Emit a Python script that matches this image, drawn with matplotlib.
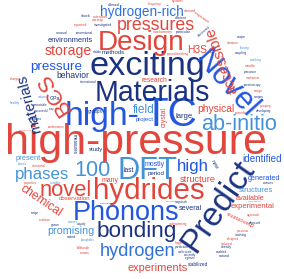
import matplotlib
matplotlib.use("Agg")
import matplotlib.pyplot as plt
import numpy as np

# ---- data: words of the cloud and their colour group ----
words = [
    "high-pressure", "DFT", "100", "high-", "TC", "Materials", "exciting", "Design",
    "pressures", "hydrogen-rich", "Novel", "accessible", "BCS", "materials", "Phonons",
    "bonding", "hydrogen", "experiments", "hydrides", "novel", "Predict", "phases",
    "storage", "pressure", "environments", "methods", "behavior", "H3S", "GPa", "groups",
    "complex", "study", "present", "last", "many", "observation", "chemical", "promising",
    "experimental", "available", "structures", "structure", "generated", "identified",
    "several", "physical", "ab-initio", "large", "crystal", "field", "project", "mostly",
    "high", "period", "research", "ground-breaking", "measures", "phenomena", "new",
    # small words
    "allowed", "frequency", "systems", "variety", "shock", "extension", "diamond",
    "efficient", "reported", "investigated", "temperature", "stoichiometry", "particular",
    "discovered", "unusual", "conventional", "stable", "duration", "scope", "theory",
    "coupling", "working", "metallic", "precursor", "mechanism", "spectroscopy", "range",
    "ranges", "pumping", "developing", "scientific", "charge", "international", "healthy",
    "metastable", "successful", "x-ray", "nature", "confirmation", "bases", "vibrational",
    "properties", "suitable", "range", "resolution", "classes", "uniquely", "grown",
    "suited", "phosphides", "Although", "remain", "underpinning", "large", "prediction",
    "multi-scale", "currently", "regimes", "waves", "low-pressure", "approach", "detected",
    "previous", "involving", "designed", "induced", "already", "enabled", "natural",
    "magnitude", "Preliminary", "computational", "stabilized", "superconductor",
]
groups = [
    "red", "lblue", "lblue", "blue", "blue", "navy", "navy", "red",
    "red", "mblue", "blue", "red", "red", "navy", "blue",
    "navy", "mblue", "red", "red", "red", "navy", "lblue",
    "red", "blue", "navy", "navy", "navy", "red", "navy", "navy",
    "navy", "navy", "lblue", "navy", "red", "red", "red", "lblue",
    "red", "red", "lblue", "red", "blue", "blue",
    "navy", "red", "lblue", "navy", "red", "lblue", "blue", "blue",
    "blue", "navy", "red", "red", "navy", "red", "navy",
    "navy", "red", "red", "red", "navy", "red", "red",
    "navy", "red", "navy", "red", "red", "navy",
    "navy", "navy", "navy", "navy", "red", "navy", "lblue",
    "navy", "lblue", "red", "navy", "red", "navy", "red",
    "navy", "red", "navy", "red", "red", "navy", "lblue",
    "navy", "navy", "navy", "lblue", "red", "lblue", "red",
    "red", "lblue", "navy", "red", "lblue", "navy", "navy",
    "navy", "lblue", "red", "red", "red", "red", "navy",
    "navy", "navy", "navy", "navy", "red", "red", "navy",
    "red", "navy", "red", "red", "navy", "navy", "navy",
    "navy", "red", "navy", "navy", "red",
]

# ---- layout (pixel centre x, centre y, text length px, rotation deg) ----
layout = [
    (136, 143, 263, 0), (147, 171, 60, 0), (93, 170, 36, 0), (102, 116, 75, 0), (170, 115, 54, 0),
    (152, 93, 116, 0), (147, 66, 117, 0), (141, 43, 87, 0),
    (156, 25, 78, 0), (142, 12, 84, 0), (226, 84, 80, -48), (222, 60, 70, 110), (54, 94, 46, 123),
    (29, 104, 60, 105), (126, 213, 107, 0),
    (137, 232, 80, 0), (138, 251, 76, 0), (158, 268, 60, 0), (149, 191, 112, 0), (66, 190, 53, 0),
    (218, 206, 105, 55), (42, 174, 54, 0),
    (68, 51, 47, 0), (56, 67, 52, 0), (70, 41, 45, 0), (111, 55, 23, 0), (73, 75, 33, 0),
    (198, 50, 20, 0), (57, 104, 15, 0), (95, 112, 24, 0),
    (35, 119, 24, 0), (100, 149, 14, 0), (30, 157, 25, 0), (126, 170, 13, 0), (110, 181, 17, 0),
    (75, 200, 40, 0), (43, 200, 48, -34), (71, 231, 47, 0),
    (252, 206, 44, 0), (247, 195, 29, 0), (251, 186, 34, 0), (198, 184, 36, 0), (259, 174, 33, 0),
    (262, 156, 40, 0),
    (190, 208, 23, 0), (216, 108, 37, 0), (235, 124, 76, 0), (185, 116, 17, 0), (164, 117, 20, 90),
    (146, 110, 22, 0), (146, 118, 18, 0), (161, 164, 22, 0),
    (193, 167, 32, 0), (158, 173, 17, 0), (155, 80, 26, 0), (173, 57, 22, 0), (80, 140, 20, -90),
    (240, 218, 30, 155), (214, 165, 10, -60),
    # small words
    (115, 5, 12, 0), (155, 5, 14, 0), (178, 5, 12, 0), (98, 20, 12, 0), (86, 16, 10, 0),
    (103, 16, 15, 0), (183, 11, 12, 0),
    (181, 16, 12, 0), (80, 25, 13, 0), (103, 25, 18, 0), (202, 18, 18, -35), (163, 34, 20, 0),
    (184, 34, 15, 0),
    (204, 31, 15, 40), (62, 33, 12, 0), (84, 33, 17, 0), (98, 52, 9, 0), (233, 43, 12, 0),
    (241, 37, 9, 0), (245, 48, 10, 0),
    (241, 53, 12, 0), (256, 60, 11, 0), (250, 66, 11, 0), (250, 72, 13, 0), (253, 78, 14, 0),
    (252, 85, 17, 0), (258, 91, 9, 0),
    (258, 99, 10, 0), (262, 104, 11, 0), (258, 110, 15, 0), (244, 114, 13, 0), (17, 80, 10, 0),
    (89, 80, 16, 0), (15, 103, 10, 0),
    (40, 106, 14, 0), (40, 111, 14, 0), (60, 109, 8, 0), (47, 96, 9, 0), (62, 127, 16, 0),
    (20, 163, 9, 0), (42, 163, 14, 0),
    (30, 184, 13, 0), (55, 184, 11, 0), (35, 213, 8, 0), (45, 220, 12, 0), (73, 220, 10, 0),
    (75, 225, 11, 0), (55, 225, 9, 0),
    (70, 237, 9, 0), (88, 240, 14, 0), (83, 248, 12, 0), (85, 253, 10, 0), (178, 229, 18, 0),
    (180, 238, 8, 0), (184, 243, 14, 0),
    (185, 248, 14, 0), (190, 253, 12, 0), (190, 258, 11, 0), (268, 180, 10, 0), (255, 200, 20, 0),
    (253, 215, 13, 0), (255, 223, 12, 0),
    (243, 231, 12, 0), (241, 235, 12, 0), (233, 239, 12, 0), (228, 243, 12, 0), (226, 247, 11, 0),
    (222, 251, 11, 0), (224, 256, 11, 0),
    (180, 203, 13, 0), (175, 197, 16, 0), (115, 205, 16, 0), (190, 263, 20, 0), (33, 128, 14, 0),
    (243, 100, 18, 0),
]

palette = {"red": "#e2453c", "navy": "#1b3282", "blue": "#2357e0",
           "mblue": "#2f72dc", "lblue": "#4493d8"}
FONT = ["Liberation Sans", "DejaVu Sans"]
W, H = 284, 279
N_FIXED = 22  # the largest words keep the position


def make_axes(fig):
    ax = fig.add_axes([0, 0, 1, 1])
    ax.set_xlim(0, W)
    ax.set_ylim(H, 0)
    ax.axis("off")
    return ax


# helper figure used to measure words and their ink masks
mfig = plt.figure(figsize=(W / 100, H / 100), dpi=100, facecolor="none")
max_ = make_axes(mfig)
mtxt = max_.text(W / 2, H / 2, "", fontsize=10, family=FONT, ha="center", va="center",
                 rotation_mode="anchor", color="k")
mren = mfig.canvas.get_renderer()


def fit_size(word, length):
    mtxt.set_text(word)
    mtxt.set_fontsize(10)
    mtxt.set_rotation(0)
    bb = mtxt.get_window_extent(mren)
    return 10 * length / bb.width


def ink(word, fs, rot):
    mtxt.set_text(word)
    mtxt.set_fontsize(fs)
    mtxt.set_rotation(rot)
    mfig.canvas.draw()
    a = np.asarray(mfig.canvas.buffer_rgba())[:, :, 3]
    m = a > 60
    ys, xs = np.nonzero(m)
    if len(ys) == 0:
        return None
    y0, y1, x0, x1 = ys.min(), ys.max() + 1, xs.min(), xs.max() + 1
    return m[y0:y1, x0:x1], y0 - H / 2, x0 - W / 2


occ = np.zeros((H, W), dtype=bool)


def window(patch, r, c):
    h, w = patch.shape
    r0, c0, r1, c1 = max(r, 0), max(c, 0), min(r + h, H), min(c + w, W)
    if r1 <= r0 or c1 <= c0:
        return None
    return (slice(r0, r1), slice(c0, c1)), patch[r0 - r:r1 - r, c0 - c:c1 - c]


def hits(patch, r, c):
    wdw = window(patch, r, c)
    if wdw is None:
        return 0
    sl, p = wdw
    return np.count_nonzero(occ[sl] & p)


def mark(patch, r, c):
    p = np.pad(patch, 1)
    d = p.copy()
    d[1:, :] |= p[:-1, :]
    d[:-1, :] |= p[1:, :]
    d[:, 1:] |= p[:, :-1]
    d[:, :-1] |= p[:, 1:]
    wdw = window(d, r - 1, c - 1)
    if wdw is not None:
        sl, q = wdw
        occ[sl] |= q


offsets = sorted([(dx, dy) for dx in range(-9, 10) for dy in range(-9, 10)
                  if dx * dx + dy * dy <= 81], key=lambda o: o[0] ** 2 + 1.6 * o[1] ** 2)

placed = []
for i, (word, grp, (cx, cy, length, rot)) in enumerate(zip(words, groups, layout)):
    fs = fit_size(word, length)
    best = None
    scales = [1.0] if i < N_FIXED else [1.0, 0.9, 0.8, 0.7, 0.6]
    for s in scales:
        res = ink(word, fs * s, rot)
        if res is None:
            break
        patch, oy, ox = res
        for dx, dy in (offsets if i >= N_FIXED else [(0, 0)]):
            r = int(round(cy + dy + oy))
            c = int(round(cx + dx + ox))
            if i < N_FIXED or hits(patch, r, c) == 0:
                best = (fs * s, cx + dx, cy + dy, patch, r, c)
                break
        if best is not None:
            break
    if best is None:
        patch, oy, ox = res
        best = (fs * scales[-1], cx, cy, patch, int(round(cy + oy)), int(round(cx + ox)))
    f, x, y, patch, r, c = best
    mark(patch, r, c)
    placed.append((word, grp, x, y, f, rot))

plt.close(mfig)

fig = plt.figure(figsize=(W / 100, H / 100), dpi=100)
ax = make_axes(fig)
for word, grp, x, y, f, rot in placed:
    ax.text(x, y, word, fontsize=f, family=FONT, ha="center", va="center",
            rotation=rot, rotation_mode="anchor", color=palette[grp])

fig.savefig("out.png", dpi=100)
